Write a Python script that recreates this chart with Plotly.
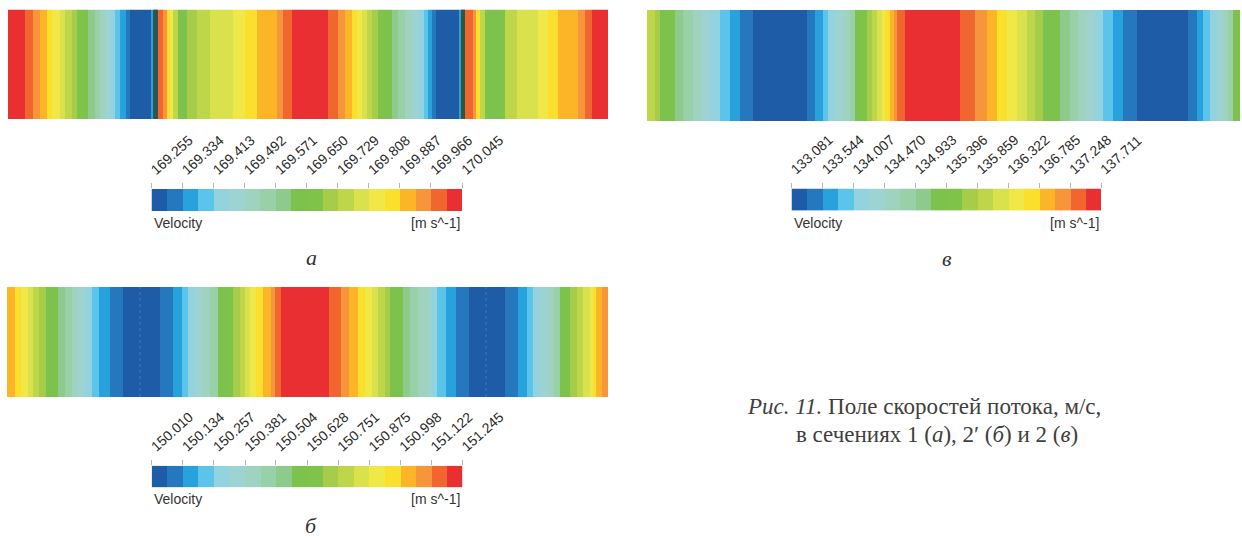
import numpy as np
import plotly.graph_objects as go

# ---- contour palette (20 discrete velocity levels, blue -> red) ----
palette = ["#1f5ca8", "#2678be", "#27a2dc", "#5bc4ea", "#92d3df",
           "#9dd4d1", "#9fd3c0", "#98d0a8", "#8dca8c", "#7cc24c",
           "#80c34b", "#a6cd4a", "#bdd64a", "#d9e24c", "#efe847",
           "#fbdf2d", "#fbb527", "#f7953a", "#f1662f", "#ea2f33"]

# ---- section 1 (a): band edges along the section and contour level of each band ----
edges_a = [0, 17, 25, 32, 39, 44, 52, 57, 64, 69, 75, 80, 87, 92, 97, 102, 107, 112, 118, 122,
           143, 145, 150, 155, 159, 162, 165, 170, 179, 189, 202, 225, 237, 249, 269, 275, 284,
           320, 330, 337, 344, 349, 354, 359, 364, 370, 377, 384, 390, 397, 404, 410, 416, 420, 424, 428,
           451, 453, 457, 465, 468, 472, 477, 492, 497, 509, 530, 540, 550, 570, 577, 584,
           600]
levels_a = [20, 19, 18, 17, 16, 15, 14, 13, 12, 11, 10, 9, 8, 7, 6, 5, 4, 3, 2, 1,
            3, 1, 19, 18, 16, 15, 13, 10, 12, 13, 14, 15, 16, 17, 18, 19, 20,
            19, 18, 17, 16, 15, 14, 13, 12, 11, 10, 9, 8, 7, 6, 5, 4, 3, 2, 1,
            3, 1, 19, 18, 16, 13, 10, 11, 13, 14, 15, 16, 17, 18, 19, 20]
walls_a = [147.5, 455.0]
ticks_a = ["169.255", "169.334", "169.413", "169.492", "169.571", "169.650",
           "169.729", "169.808", "169.887", "169.966", "170.045"]

# ---- section 2 (в) ----
edges_v = [0, 8, 13, 28, 36, 46, 55, 63, 73, 83, 93, 106,
           160, 168, 176, 181, 188, 196, 203,
           208, 215, 220, 225, 230, 235, 238, 243, 247, 250, 258,
           313, 328, 340, 350, 360, 370, 380, 388,
           396, 413, 423, 431, 440, 448, 456, 466, 476, 490,
           541, 550, 556, 563, 570, 576, 581, 586,
           593]
levels_v = [13, 12, 10, 9, 8, 7, 6, 5, 4, 3, 2, 1,
            2, 3, 4, 5, 6, 7, 8,
            10, 11, 12, 13, 14, 15, 16, 17, 18, 19, 20,
            19, 18, 17, 16, 15, 14, 13, 12,
            10, 9, 8, 7, 6, 5, 4, 3, 2, 1,
            2, 3, 4, 5, 6, 7, 8, 10]
ticks_v = ["133.081", "133.544", "134.007", "134.470", "134.933", "135.396",
           "135.859", "136.322", "136.785", "137.248", "137.711"]

# ---- section 2' (б) ----
edges_b = [0, 8, 14, 21, 26, 32, 39, 51, 58, 65, 71, 78, 85, 92, 103, 116,
           153, 166, 175, 181, 188, 195, 203, 211, 221, 226, 233, 238, 243, 249, 256, 264, 268, 274,
           322, 334, 342, 351, 358, 365, 371, 378, 383, 396, 403, 411, 421, 425, 430, 439, 449, 462,
           498, 511, 520, 526, 533, 541, 547, 553, 563, 570, 576, 583, 586, 589, 595,
           601]
levels_b = [17, 16, 15, 14, 13, 12, 10, 9, 8, 7, 6, 5, 4, 3, 2, 1,
            2, 3, 4, 5, 6, 7, 8, 10, 11, 12, 13, 14, 15, 16, 17, 18, 19, 20,
            19, 18, 17, 16, 15, 14, 13, 12, 10, 9, 8, 7, 6, 5, 4, 3, 2, 1,
            2, 3, 4, 5, 6, 7, 8, 10, 12, 13, 14, 15, 16, 17, 18]
seams_b = [133.0, 479.0]
ticks_b = ["150.010", "150.134", "150.257", "150.381", "150.504", "150.628",
           "150.751", "150.875", "150.998", "151.122", "151.245"]

W, H = 1242, 539
NLEV = len(palette)
SANS = "Liberation Sans, Arial, sans-serif"
SERIF = "Liberation Serif, Times New Roman, serif"


def fx(p):
    return p / W


def fy(p):
    return 1 - p / H


def discrete_scale(colors):
    n = len(colors)
    scale = []
    for i, c in enumerate(colors):
        scale.append([i / n, c])
        scale.append([(i + 1) / n, c])
    return scale


CS = discrete_scale(palette)


def level_to_velocity(levels, ticks):
    lo, hi = float(ticks[0]), float(ticks[-1])
    step = (hi - lo) / NLEV
    return [lo + (k - 0.5) * step for k in levels], lo, hi


fig = go.Figure()

# (edges, levels, ticks, axis suffix, strip box px, legend bar box px, letter, letter pos)
panels = [
    (edges_a, levels_a, ticks_a, "", (8, 608, 9.5, 119), (151.5, 462, 189, 211), "а", (311, 257)),
    (edges_v, levels_v, ticks_v, "2", (647, 1240, 10, 121), (791.5, 1101, 188.5, 210.7), "в", (947, 258)),
    (edges_b, levels_b, ticks_b, "3", (7, 608, 287, 397), (151.7, 462.3, 465.7, 487.3), "б", (311, 525)),
]

annotations = []
layout_axes = {}
for idx, (edges, levels, ticks, sfx, sbox, cbox, letter, lpos) in enumerate(panels):
    vel, lo, hi = level_to_velocity(levels, ticks)
    xs = "x" + sfx
    ys = "y" + sfx
    # velocity strip across the section
    fig.add_trace(go.Heatmap(
        x=edges, y=[0, 1], z=[vel], zmin=lo, zmax=hi, colorscale=CS,
        showscale=False, zsmooth=False, hoverinfo="skip",
        xaxis=xs, yaxis=ys))
    layout_axes["xaxis" + sfx] = dict(domain=[fx(sbox[0]), fx(sbox[1])], range=[edges[0], edges[-1]],
                                      anchor=ys, visible=False, fixedrange=True, automargin=False)
    layout_axes["yaxis" + sfx] = dict(domain=[fy(sbox[3]), fy(sbox[2])], range=[0, 1],
                                      anchor=xs, visible=False, fixedrange=True, automargin=False)

    # legend bar for the strip
    cn = str(4 + idx)
    cbx = "x" + cn
    cby = "y" + cn
    cell_edges = np.linspace(lo, hi, NLEV + 1)
    cell_vals = 0.5 * (cell_edges[:-1] + cell_edges[1:])
    fig.add_trace(go.Heatmap(
        x=cell_edges, y=[0, 1], z=[cell_vals], zmin=lo, zmax=hi, colorscale=CS,
        showscale=False, zsmooth=False, hoverinfo="skip",
        xaxis=cbx, yaxis=cby))
    layout_axes["xaxis" + cn] = dict(
        domain=[fx(cbox[0]), fx(cbox[1])], range=[lo, hi], anchor=cby, side="top",
        tickmode="array", tickvals=[float(t) for t in ticks], ticktext=ticks,
        tickangle=-42, ticks="outside", ticklen=5, tickwidth=1, tickcolor="#b5b5b5",
        tickfont=dict(family=SANS, size=14, color="#2a2a2a"),
        showgrid=False, zeroline=False, showline=False, fixedrange=True, automargin=False)
    layout_axes["yaxis" + cn] = dict(domain=[fy(cbox[3]), fy(cbox[2])], range=[0, 1],
                                     anchor=cbx, visible=False, fixedrange=True, automargin=False)

    lab_y = fy(cbox[3] + 12)
    annotations.append(dict(text="Velocity", x=fx(cbox[0]), y=lab_y, xref="paper", yref="paper",
                            xanchor="left", yanchor="middle", showarrow=False,
                            font=dict(family=SANS, size=14, color="#333333")))
    annotations.append(dict(text="[m s^-1]", x=fx(cbox[1]), y=lab_y, xref="paper", yref="paper",
                            xanchor="right", yanchor="middle", showarrow=False,
                            font=dict(family=SANS, size=14, color="#333333")))
    annotations.append(dict(text="<i>" + letter + "</i>", x=fx(lpos[0]), y=fy(lpos[1]),
                            xref="paper", yref="paper", xanchor="center", yanchor="middle",
                            showarrow=False,
                            font=dict(family=SERIF, size=22, color="#333333")))

# dark wall lines in section 1
wx, wy = [], []
for w in walls_a:
    wx += [w, w, None]
    wy += [0, 1, None]
fig.add_trace(go.Scatter(x=wx, y=wy, mode="lines", line=dict(color="#33553a", width=4),
                         hoverinfo="skip", showlegend=False, xaxis="x", yaxis="y"))

# faint mesh seams in section 2'
sx, sy = [], []
for s in seams_b:
    sx += [s, s, None]
    sy += [0, 1, None]
fig.add_trace(go.Scatter(x=sx, y=sy, mode="lines", line=dict(color="#3f78c0", width=1, dash="dot"),
                         hoverinfo="skip", showlegend=False, xaxis="x3", yaxis="y3"))

# figure caption
cap_font = dict(family=SERIF, size=23, color="#404040")
annotations.append(dict(text="<i>Рис. 11.</i> Поле скоростей потока, м/с,", x=fx(924), y=fy(406),
                        xref="paper", yref="paper", xanchor="center", yanchor="middle",
                        showarrow=False, font=cap_font))
annotations.append(dict(text="в сечениях 1 (<i>а</i>), 2′ (<i>б</i>) и 2 (<i>в</i>)", x=fx(937), y=fy(434),
                        xref="paper", yref="paper", xanchor="center", yanchor="middle",
                        showarrow=False, font=cap_font))

fig.update_layout(
    width=W, height=H, autosize=False,
    margin=dict(l=0, r=0, t=0, b=0, pad=0, autoexpand=False),
    paper_bgcolor="white", plot_bgcolor="white", showlegend=False,
    annotations=annotations, **layout_axes)

fig.write_html("out.html", config={"responsive": False})
